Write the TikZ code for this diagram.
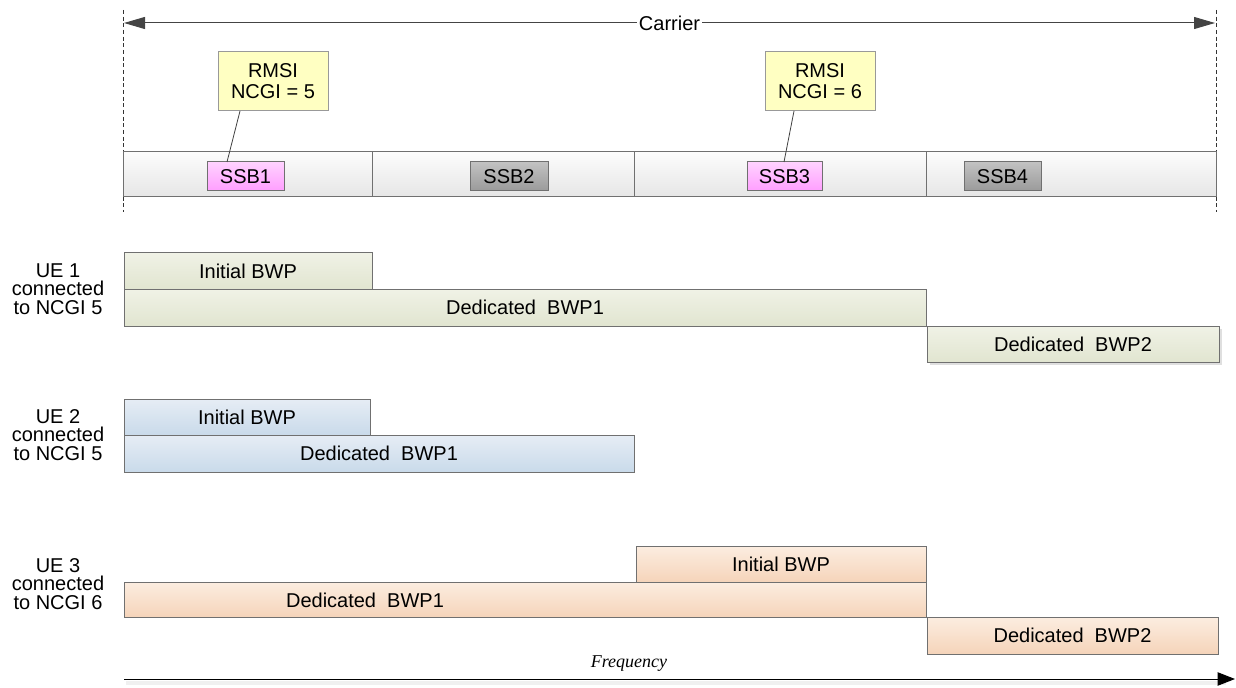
\documentclass[tikz,border=0pt]{standalone}
\usepackage{fontspec}
\setmainfont{Liberation Sans}
\newfontfamily\timesfont{Liberation Serif}
\usetikzlibrary{arrows.meta,shadows}
\definecolor{bordc}{HTML}{707070}
\definecolor{greenT}{HTML}{F0F2E6}
\definecolor{greenB}{HTML}{E1E5D0}
\definecolor{blueT}{HTML}{E6EDF5}
\definecolor{blueB}{HTML}{C9DAEA}
\definecolor{peachT}{HTML}{FCEDE0}
\definecolor{peachB}{HTML}{F5D4BA}
\definecolor{pinkT}{HTML}{FFD2FF}
\definecolor{pinkB}{HTML}{FF9EFF}
\definecolor{grayT}{HTML}{C2C2C2}
\definecolor{grayB}{HTML}{9A9A9A}
\definecolor{cellT}{HTML}{FCFCFC}
\definecolor{cellB}{HTML}{E6E6E6}
\definecolor{yellowc}{HTML}{FFFFC2}
\definecolor{arrowc}{HTML}{444444}
\newcommand\pxbox[7]{\node[#2, anchor=north west, minimum width={(#5-#3)*0.75pt}, minimum height={(#6-#4)*0.75pt}] (#1) at (#3,#4) {#7};}
\begin{document}
\begin{tikzpicture}[x=0.75pt,y=-0.75pt,
  font=\fontsize{15}{17}\selectfont,
  basebox/.style={draw=bordc, line width=0.75pt, inner sep=0pt, outer sep=0pt, text=black},
  cellbox/.style={basebox, top color=cellT, bottom color=cellB},
  pinkbox/.style={basebox, top color=pinkT, bottom color=pinkB},
  graybox/.style={basebox, top color=grayT, bottom color=grayB},
  yellowbox/.style={basebox, draw=gray!80, fill=yellowc, align=center, font=\fontsize{15}{15.75}\selectfont},
  greenbox/.style={basebox, top color=greenT, bottom color=greenB},
  bluebox/.style={basebox, top color=blueT, bottom color=blueB},
  peachbox/.style={basebox, top color=peachT, bottom color=peachB},
  shadowed/.style={drop shadow={shadow xshift=2pt, shadow yshift=-2.5pt, fill=black!25, opacity=0.5}},
  uelabel/.style={align=center, font=\fontsize{15}{13.9}\selectfont},
  guide/.style={draw=black!80, line width=0.6pt, dash pattern=on 3pt off 2pt},
  leader/.style={draw=black!75, line width=0.6pt}
]
\useasboundingbox (0,0) rectangle (1236,688);

% dashed guides
\coordinate (gl1) at (123,10); \coordinate (gl2) at (123,212);
\coordinate (gr1) at (1216,10); \coordinate (gr2) at (1216,212);
\draw[guide] (gl1) -- (gl2);
\draw[guide] (gr1) -- (gr2);

% carrier arrow
\coordinate (cl) at (124,23); \coordinate (cr) at (1215,23);
\draw[arrowc, line width=0.75pt, {Triangle[length=15.75pt,width=9pt]}-{Triangle[length=15.75pt,width=9pt]}] (cl) -- node[fill=white, inner sep=1.5pt, text=black] (carrier) {Carrier} (cr);

% SSB row
\pxbox{c1}{cellbox}{123}{152}{372}{197}{}
\pxbox{c2}{cellbox}{372}{152}{634}{197}{}
\pxbox{c3}{cellbox}{634}{152}{926}{197}{}
\pxbox{c4}{cellbox}{926}{152}{1216}{197}{}
\pxbox{ssb1}{pinkbox}{207}{162}{284}{191}{SSB1}
\pxbox{ssb2}{graybox}{470}{162}{548}{191}{SSB2}
\pxbox{ssb3}{pinkbox}{747}{162}{822}{191}{SSB3}
\pxbox{ssb4}{graybox}{964}{162}{1041}{191}{SSB4}

% RMSI boxes
\pxbox{rmsi1}{yellowbox}{218}{52}{328}{111}{RMSI\\NCGI = 5}
\pxbox{rmsi2}{yellowbox}{765}{52}{875}{111}{RMSI\\NCGI = 6}
\draw[leader] ([xshift=16.5pt]rmsi1.south west) -- ([xshift=15pt]ssb1.north west);
\draw[leader] ([xshift=21.75pt]rmsi2.south west) -- ([xshift=27.75pt]ssb3.north west);

% UE 1
\node[uelabel] (ue1) at (58,289) {UE 1\\connected\\to NCGI 5};
\pxbox{u1i}{greenbox}{124}{253}{372}{289}{Initial BWP}
\pxbox{u1d1}{greenbox}{124}{289}{926}{326}{Dedicated\ \ BWP1}
\pxbox{u1d2}{greenbox,shadowed}{927}{326}{1219}{362}{Dedicated\ \ BWP2}

% UE 2
\node[uelabel] (ue2) at (58,435) {UE 2\\connected\\to NCGI 5};
\pxbox{u2i}{bluebox}{124}{399}{370}{435}{Initial BWP}
\pxbox{u2d1}{bluebox}{124}{435}{634}{472}{Dedicated\ \ BWP1}

% UE 3
\node[uelabel] (ue3) at (58,584) {UE 3\\connected\\to NCGI 6};
\pxbox{u3i}{peachbox}{636}{546}{926}{582}{Initial BWP}
\pxbox{u3d1}{peachbox}{124}{582}{926}{617}{}
\node (u3d1t) at (365,600) {Dedicated\ \ BWP1};
\pxbox{u3d2}{peachbox}{927}{617}{1218}{654}{Dedicated\ \ BWP2}

% frequency axis
\coordinate (fl) at (124,679); \coordinate (fr) at (1235,679);
\fill[black!6] (126,680.5) rectangle (1226,684.5);
\draw[black, line width=0.75pt, -{Triangle[length=13pt,width=10pt]}] (fl) -- (fr);
\node[font=\timesfont\itshape\fontsize{13.5}{15}\selectfont] (freq) at (629,664) {Frequency};
\end{tikzpicture}
\end{document}
